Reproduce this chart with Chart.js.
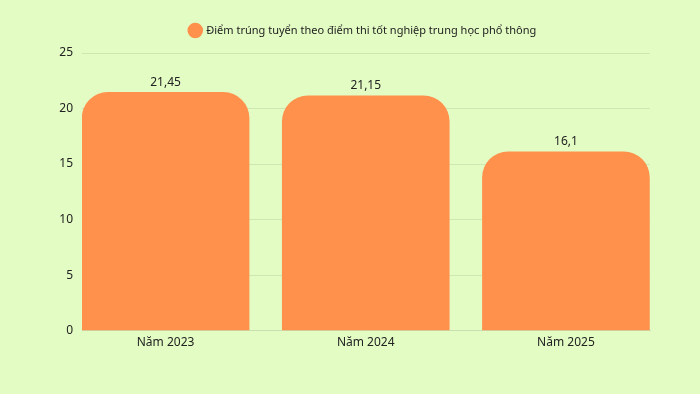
<!DOCTYPE html>
<html>
<head>
<meta charset="utf-8">
<script src="https://cdn.jsdelivr.net/npm/chart.js@4/dist/chart.umd.min.js"></script>
<style>
  html, body { margin: 0; padding: 0; background: #e3fcc3; }
  #wrap { width: 700px; height: 394px; }
</style>
</head>
<body>
<div id="wrap"><canvas id="myBarChart"></canvas></div>
<script>
const yearLabels = ['Năm 2023', 'Năm 2024', 'Năm 2025'];
const scores = [21.45, 21.15, 16.1];
const scoreText = ['21,45', '21,15', '16,1'];
const seriesName = 'Điểm trúng tuyển theo điểm thi tốt nghiệp trung học phổ thông';

Chart.defaults.font.family = '"Noto Sans", "Open Sans", sans-serif';
Chart.defaults.color = '#222';

// value labels above each bar
const valueLabels = {
    id: 'valueLabels',
    afterDatasetsDraw(chart) {
        const ctx = chart.ctx;
        const meta = chart.getDatasetMeta(0);
        ctx.save();
        ctx.font = '12px "Noto Sans", sans-serif';
        ctx.fillStyle = '#222';
        ctx.textAlign = 'center';
        ctx.textBaseline = 'bottom';
        meta.data.forEach((bar, i) => {
            ctx.fillText(scoreText[i], bar.x, bar.y - 4);
        });
        ctx.restore();
    }
};

// more space under the legend, and centre it over the plot area
const legendTweak = {
    id: 'legendTweak',
    beforeInit(chart) {
        const fit = chart.legend.fit;
        chart.legend.fit = function () {
            fit.bind(chart.legend)();
            this.height += 7;
        };
    },
    afterLayout(chart) {
        chart.legend.left = chart.chartArea.left - 6;
    }
};

const barChart = new Chart(document.getElementById('myBarChart'), {
    type: 'bar',
    data: {
        datasets: [{
            label: seriesName,
            data: scores.map((v, i) => ({ x: i, y: v })),
            backgroundColor: '#ff914d',
            borderRadius: { topLeft: 26, topRight: 26 },
            borderSkipped: 'start',
            barThickness: 167
        }]
    },
    options: {
        responsive: true,
        maintainAspectRatio: false,
        animation: false,
        layout: {
            padding: { left: 0, right: 50, top: 13, bottom: 47 }
        },
        scales: {
            x: {
                type: 'linear',
                offset: false,
                min: -0.4175,
                max: 2.42,
                afterBuildTicks: (scale) => {
                    scale.ticks = yearLabels.map((_, i) => ({ value: i }));
                },
                ticks: {
                    callback: (v) => yearLabels[v],
                    font: { size: 12 },
                    color: '#222',
                    padding: -3
                },
                grid: { display: false },
                border: { color: '#c9dfb0' }
            },
            y: {
                min: 0,
                max: 25,
                ticks: {
                    stepSize: 5,
                    font: { size: 12 },
                    color: '#222',
                    padding: 9
                },
                afterFit: (scale) => { scale.width = 82; },
                grid: { color: '#cfe6b3', drawTicks: false },
                border: { display: false }
            }
        },
        plugins: {
            legend: {
                position: 'top',
                labels: {
                    usePointStyle: true,
                    pointStyle: 'circle',
                    boxWidth: 11,
                    boxHeight: 11,
                    color: '#222',
                    font: { size: 11 },
                    padding: 12
                }
            },
            tooltip: { enabled: false }
        }
    },
    plugins: [valueLabels, legendTweak]
});
</script>
</body>
</html>
